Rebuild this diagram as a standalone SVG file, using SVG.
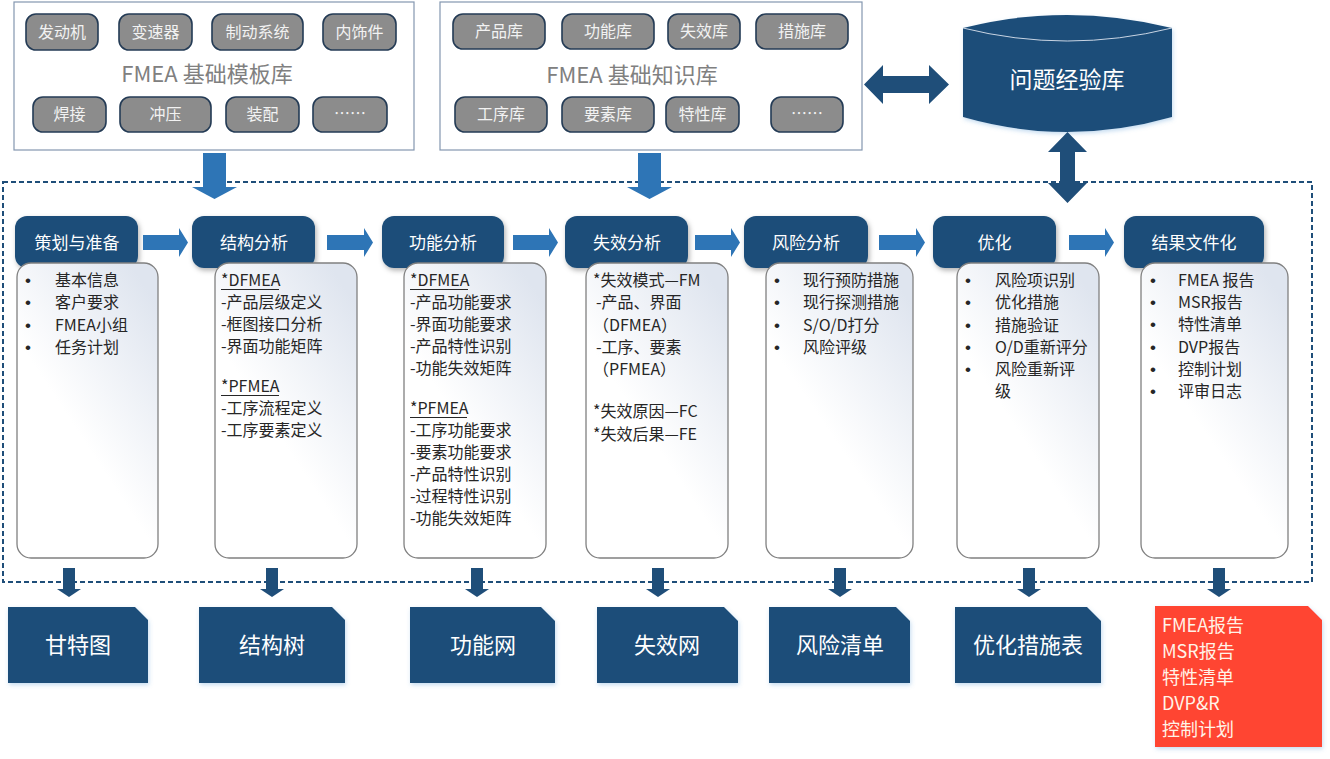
<svg xmlns="http://www.w3.org/2000/svg" width="1330" height="759" viewBox="0 0 1330 759">
<defs>
<style>
.t{font-family:"Noto Sans CJK SC","Noto Sans",sans-serif;}
.pill{fill:#8c8c8c;stroke:#243b55;stroke-width:1.6;}
.pt{font-family:"Noto Sans CJK SC","Noto Sans",sans-serif;font-size:16px;fill:#f2f2f2;text-anchor:middle;}
.lib{fill:#ffffff;stroke:#8497b0;stroke-width:1.2;}
.title{font-family:"Noto Sans CJK SC","Noto Sans",sans-serif;font-size:22px;fill:#808080;text-anchor:middle;}
.hdr{fill:#1f4e79;filter:url(#sh);}
.ht{font-family:"Noto Sans CJK SC","Noto Sans",sans-serif;font-size:17px;fill:#ffffff;text-anchor:middle;}
.card{fill:url(#cg);stroke:#808080;stroke-width:1.3;}
.ct{font-family:"Noto Sans CJK SC","Noto Sans",sans-serif;font-size:16px;fill:#262626;}
.b{font-family:"Liberation Sans",Arial,sans-serif;font-size:17px;fill:#262626;}
.ul{stroke:#262626;stroke-width:1;}
.blue{fill:#2e75b6;}
.navy{fill:#1f4e79;}
.out{fill:#1f4e79;filter:url(#sh2);}
.ot{font-family:"Noto Sans CJK SC","Noto Sans",sans-serif;font-size:22px;fill:#ffffff;text-anchor:middle;}
.rt{font-family:"Noto Sans CJK SC","Noto Sans",sans-serif;font-size:18px;fill:#fff3e8;}
</style>
<linearGradient id="cg" x1="0.8" y1="0" x2="0.4" y2="0.55">
<stop offset="0" stop-color="#dfe5ef"/>
<stop offset="1" stop-color="#ffffff"/>
</linearGradient>
<filter id="sh" x="-10%" y="-20%" width="130%" height="150%">
<feDropShadow dx="1.5" dy="2.5" stdDeviation="2.5" flood-color="#000" flood-opacity="0.3"/>
</filter>
<filter id="sh2" x="-10%" y="-10%" width="130%" height="130%">
<feDropShadow dx="1" dy="2" stdDeviation="2" flood-color="#5b9bd5" flood-opacity="0.35"/>
</filter>
</defs>

<g id="template-lib">
<rect class="lib" x="14" y="2" width="400" height="148"/>
<rect class="pill" x="26" y="14" width="72" height="36" rx="10"/><text class="pt" x="62" y="38">发动机</text>
<rect class="pill" x="119" y="14" width="73" height="36" rx="10"/><text class="pt" x="155.5" y="38">变速器</text>
<rect class="pill" x="212" y="14" width="91" height="36" rx="10"/><text class="pt" x="257.5" y="38">制动系统</text>
<rect class="pill" x="323" y="14" width="73" height="36" rx="10"/><text class="pt" x="359.5" y="38">内饰件</text>
<text class="title" x="207" y="82">FMEA 基础模板库</text>
<rect class="pill" x="33" y="97" width="73" height="35" rx="10"/><text class="pt" x="69.5" y="120">焊接</text>
<rect class="pill" x="120" y="97" width="91" height="35" rx="10"/><text class="pt" x="165.5" y="120">冲压</text>
<rect class="pill" x="226" y="97" width="73" height="35" rx="10"/><text class="pt" x="262.5" y="120">装配</text>
<rect class="pill" x="313" y="97" width="74" height="35" rx="10"/><text class="pt" x="350" y="119">……</text>
</g>

<g id="knowledge-lib">
<rect class="lib" x="440" y="2" width="422" height="148"/>
<rect class="pill" x="453" y="14" width="92" height="35" rx="10"/><text class="pt" x="499" y="37">产品库</text>
<rect class="pill" x="562" y="14" width="92" height="35" rx="10"/><text class="pt" x="608" y="37">功能库</text>
<rect class="pill" x="668" y="14" width="72" height="35" rx="10"/><text class="pt" x="704" y="37">失效库</text>
<rect class="pill" x="756" y="14" width="92" height="35" rx="10"/><text class="pt" x="802" y="37">措施库</text>
<text class="title" x="632" y="83">FMEA 基础知识库</text>
<rect class="pill" x="455" y="97" width="92" height="35" rx="10"/><text class="pt" x="501" y="120">工序库</text>
<rect class="pill" x="562" y="97" width="92" height="35" rx="10"/><text class="pt" x="608" y="120">要素库</text>
<rect class="pill" x="666" y="97" width="73" height="35" rx="10"/><text class="pt" x="702.5" y="120">特性库</text>
<rect class="pill" x="771" y="97" width="72" height="35" rx="10"/><text class="pt" x="807" y="119">……</text>
</g>

<g id="problem-lib">
<path class="navy" d="M963,28 Q1067,2 1172,28 L1172,117 Q1067,147 963,117 Z" filter="url(#sh2)"/>
<path d="M963,28 Q1067,54 1172,28" fill="none" stroke="#c8d4e3" stroke-width="1"/>
<text class="t" x="1067" y="88" font-size="23" fill="#ffffff" text-anchor="middle">问题经验库</text>
</g>

<g id="process-frame">
<rect x="3" y="182" width="1309" height="400" fill="none" stroke="#1f4e79" stroke-width="2" stroke-dasharray="5 3"/>
</g>

<g id="stage-plan">
<rect class="hdr" x="15" y="216" width="123" height="52" rx="12"/>
<text class="ht" x="77" y="249">策划与准备</text>
<rect class="card" x="17" y="263" width="141" height="295" rx="14"/>
<g class="b"><text x="25" y="286">•</text><text x="25" y="308">•</text><text x="25" y="331">•</text><text x="25" y="353">•</text></g>
<g class="ct"><text x="55" y="286">基本信息</text>
<text x="55" y="308">客户要求</text>
<text x="55" y="331">FMEA小组</text>
<text x="55" y="353">任务计划</text></g>
</g>

<g id="stage-structure">
<rect class="hdr" x="192" y="216" width="123" height="52" rx="12"/>
<text class="ht" x="254" y="249">结构分析</text>
<rect class="card" x="215" y="263" width="142" height="295" rx="14"/>
<line class="ul" x1="221" y1="289.5" x2="279" y2="289.5"/>
<line class="ul" x1="221" y1="395.5" x2="279" y2="395.5"/>
<g class="ct"><text x="221" y="286">*DFMEA</text>
<text x="221" y="308">-产品层级定义</text>
<text x="221" y="330">-框图接口分析</text>
<text x="221" y="352">-界面功能矩阵</text>
<text x="221" y="392">*PFMEA</text>
<text x="221" y="414">-工序流程定义</text>
<text x="221" y="436">-工序要素定义</text></g>
</g>

<g id="stage-function">
<rect class="hdr" x="382" y="216" width="122" height="52" rx="12"/>
<text class="ht" x="443" y="249">功能分析</text>
<rect class="card" x="404" y="263" width="142" height="295" rx="14"/>
<line class="ul" x1="410" y1="289.5" x2="468" y2="289.5"/>
<line class="ul" x1="410" y1="417.5" x2="467" y2="417.5"/>
<g class="ct"><text x="410" y="286">*DFMEA</text>
<text x="410" y="308">-产品功能要求</text>
<text x="410" y="330">-界面功能要求</text>
<text x="410" y="352">-产品特性识别</text>
<text x="410" y="374">-功能失效矩阵</text>
<text x="410" y="414">*PFMEA</text>
<text x="410" y="436">-工序功能要求</text>
<text x="410" y="458">-要素功能要求</text>
<text x="410" y="480">-产品特性识别</text>
<text x="410" y="502">-过程特性识别</text>
<text x="410" y="524">-功能失效矩阵</text></g>
</g>

<g id="stage-failure">
<rect class="hdr" x="565" y="216" width="123" height="52" rx="12"/>
<text class="ht" x="627" y="249">失效分析</text>
<rect class="card" x="586" y="263" width="142" height="295" rx="14"/>
<g class="ct"><text x="593" y="286">*失效模式—FM</text>
<text x="596" y="308">-产品、界面</text>
<text x="593" y="331">（DFMEA）</text>
<text x="596" y="353">-工序、要素</text>
<text x="593" y="375">（PFMEA）</text>
<text x="593" y="417">*失效原因—FC</text>
<text x="593" y="440">*失效后果—FE</text></g>
</g>

<g id="stage-risk">
<rect class="hdr" x="744" y="216" width="124" height="52" rx="12"/>
<text class="ht" x="806" y="249">风险分析</text>
<rect class="card" x="766" y="263" width="147" height="295" rx="14"/>
<g class="b"><text x="774" y="286">•</text><text x="774" y="308">•</text><text x="774" y="331">•</text><text x="774" y="353">•</text></g>
<g class="ct"><text x="803" y="286">现行预防措施</text>
<text x="803" y="308">现行探测措施</text>
<text x="803" y="331">S/O/D打分</text>
<text x="803" y="353">风险评级</text></g>
</g>

<g id="stage-optimize">
<rect class="hdr" x="933" y="216" width="123" height="52" rx="12"/>
<text class="ht" x="994.5" y="249">优化</text>
<rect class="card" x="957" y="263" width="142" height="295" rx="14"/>
<g class="b"><text x="965" y="286">•</text><text x="965" y="308">•</text><text x="965" y="331">•</text><text x="965" y="353">•</text><text x="965" y="375">•</text></g>
<g class="ct"><text x="995" y="286">风险项识别</text>
<text x="995" y="308">优化措施</text>
<text x="995" y="331">措施验证</text>
<text x="995" y="353">O/D重新评分</text>
<text x="995" y="375">风险重新评</text>
<text x="995" y="397">级</text></g>
</g>

<g id="stage-document">
<rect class="hdr" x="1124" y="216" width="140" height="52" rx="12"/>
<text class="ht" x="1194" y="249">结果文件化</text>
<rect class="card" x="1141" y="263" width="147" height="295" rx="14"/>
<g class="b"><text x="1150" y="286">•</text><text x="1150" y="308">•</text><text x="1150" y="330">•</text><text x="1150" y="353">•</text><text x="1150" y="375">•</text><text x="1150" y="397">•</text></g>
<g class="ct"><text x="1178" y="286">FMEA 报告</text>
<text x="1178" y="308">MSR报告</text>
<text x="1178" y="330">特性清单</text>
<text x="1178" y="353">DVP报告</text>
<text x="1178" y="375">控制计划</text>
<text x="1178" y="397">评审日志</text></g>
</g>

<g id="out-gantt"><path class="out" d="M8,607 H135 L148,620 V683 H8 Z"/><text class="ot" x="78" y="653">甘特图</text></g>
<g id="out-tree"><path class="out" d="M199,607 H332 L345,620 V683 H199 Z"/><text class="ot" x="272" y="653">结构树</text></g>
<g id="out-funcnet"><path class="out" d="M410,607 H541 L555,621 V683 H410 Z"/><text class="ot" x="483" y="653">功能网</text></g>
<g id="out-failnet"><path class="out" d="M597,607 H724 L738,621 V683 H597 Z"/><text class="ot" x="667" y="653">失效网</text></g>
<g id="out-risklist"><path class="out" d="M769,607 H896 L910,621 V683 H769 Z"/><text class="ot" x="840" y="653">风险清单</text></g>
<g id="out-actions"><path class="out" d="M955,607 H1087 L1101,621 V683 H955 Z"/><text class="ot" x="1028" y="653">优化措施表</text></g>
<g id="out-docs">
<path d="M1155,606 H1308 L1322,620 V747 H1155 Z" fill="#ff4433" filter="url(#sh2)"/>
<text class="rt" x="1162" y="632">FMEA报告</text>
<text class="rt" x="1162" y="658">MSR报告</text>
<text class="rt" x="1162" y="684">特性清单</text>
<text class="rt" x="1162" y="710">DVP&amp;R</text>
<text class="rt" x="1162" y="736">控制计划</text>
</g>

<g id="connectors">
<path class="blue" d="M203,153 H226 V187 H237 L214.5,199 L192,187 H203 Z"/>
<path class="blue" d="M638,153 H661 V187 H672 L649.5,199 L627,187 H638 Z"/>
<path class="navy" d="M864,84.5 L883,65 V76 H929 V65 L949,84.5 L929,104 V93 H883 V104 Z"/>
<path class="navy" d="M1067.5,132 L1087,152 H1075 V183 H1087 L1067.5,203 L1048,183 H1060 V152 H1048 Z"/>
<path class="blue" d="M143,235 H179 V228 L188,242.5 L179,257 V250 H143 Z"/>
<path class="blue" d="M327,235 H364 V228 L373,242.5 L364,257 V250 H327 Z"/>
<path class="blue" d="M513,235 H549 V228 L558,242.5 L549,257 V250 H513 Z"/>
<path class="blue" d="M695,235 H731 V228 L740,242.5 L731,257 V250 H695 Z"/>
<path class="blue" d="M879,235 H916 V228 L925,242.5 L916,257 V250 H879 Z"/>
<path class="blue" d="M1069,235 H1105 V228 L1114,242.5 L1105,257 V250 H1069 Z"/>
<path class="navy" d="M63,568 H75 V589 H81 L69,597 L57,589 H63 Z"/>
<path class="navy" d="M266,568 H278 V589 H284 L272,597 L260,589 H266 Z"/>
<path class="navy" d="M471,568 H483 V589 H489 L477,597 L465,589 H471 Z"/>
<path class="navy" d="M652,568 H664 V589 H670 L658,597 L646,589 H652 Z"/>
<path class="navy" d="M834,568 H846 V589 H852 L840,597 L828,589 H834 Z"/>
<path class="navy" d="M1023,568 H1035 V589 H1041 L1029,597 L1017,589 H1023 Z"/>
<path class="navy" d="M1213,568 H1225 V589 H1231 L1219,597 L1207,589 H1213 Z"/>
</g>
</svg>
